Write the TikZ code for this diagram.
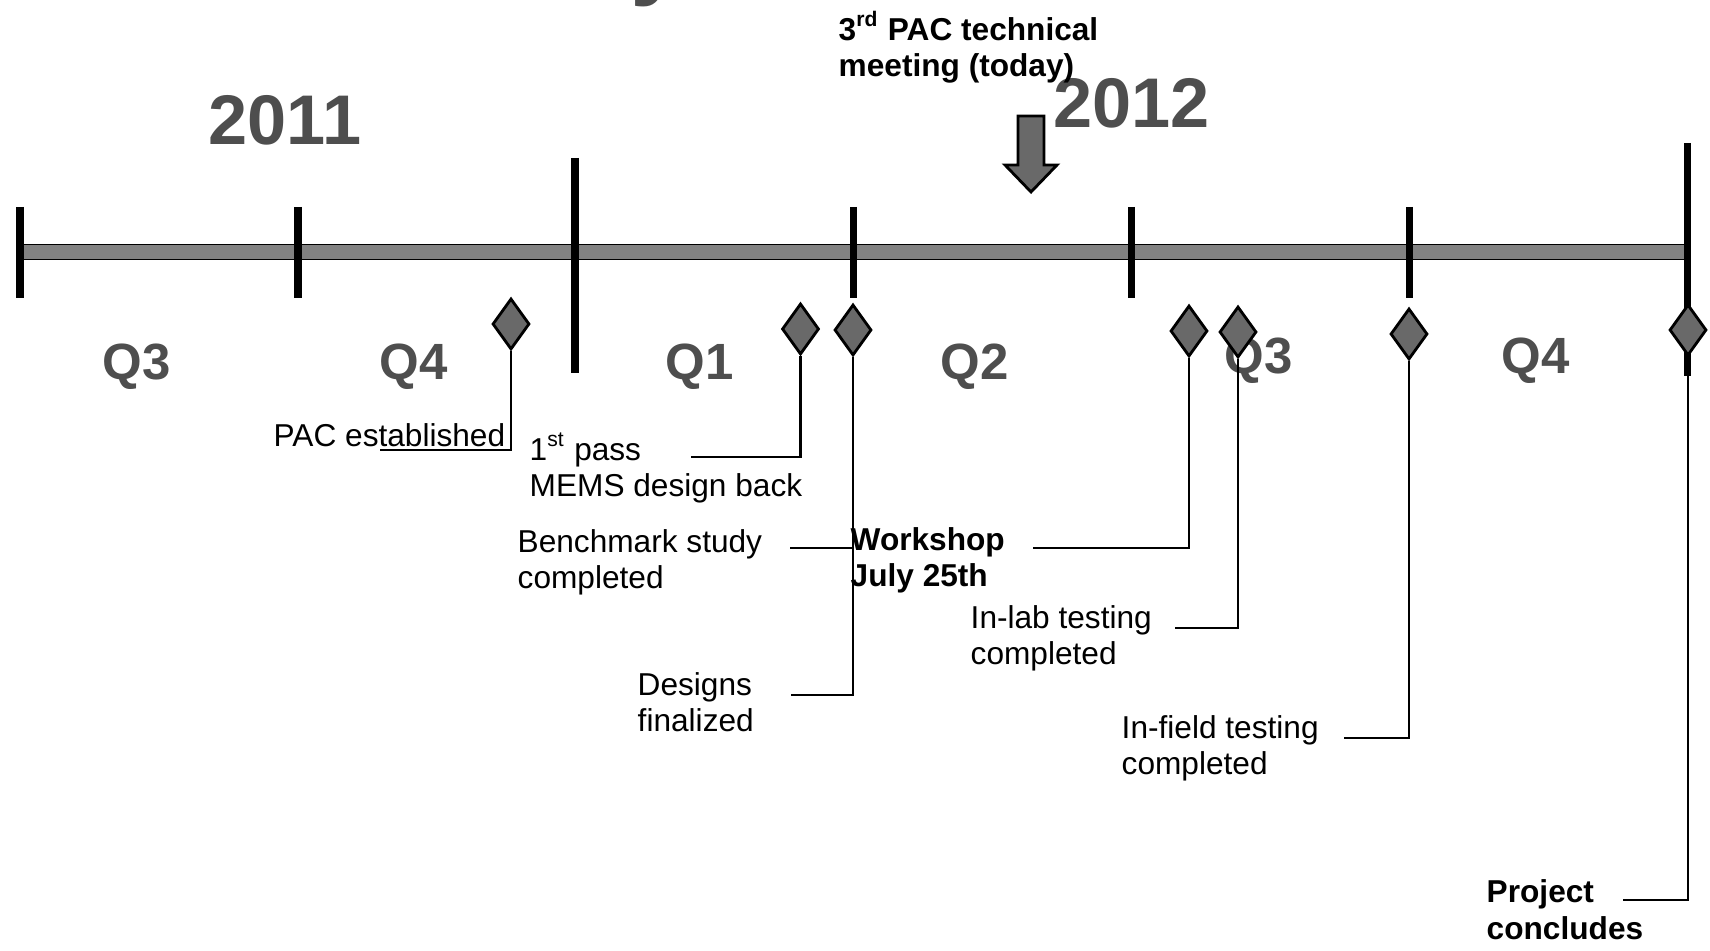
\documentclass[tikz,border=0pt]{standalone}
\usepackage{fontspec}
\setmainfont{Liberation Sans}
\usetikzlibrary{positioning, shapes.geometric}
\tikzstyle{milestone}=[diamond, draw=black, line width=0.8pt, fill=mark_gray, inner sep=0pt, minimum width=0.37cm, minimum height=0.51cm]
\tikzstyle{event}=[anchor=base west, inner sep=0pt, align=left, font=\fontsize{9}{10.5}\selectfont]
\tikzstyle{keyevent}=[event, font=\fontsize{9}{10.5}\selectfont\bfseries]
\tikzstyle{quarter}=[anchor=base west, inner sep=0pt, text=year_gray, font=\fontsize{14.5}{17}\selectfont\bfseries]
\tikzstyle{year}=[anchor=base west, inner sep=0pt, text=year_gray, font=\fontsize{20}{24}\selectfont\bfseries]
\tikzstyle{qtick}=[line width=2pt]
\tikzstyle{leader}=[line width=0.6pt]
\definecolor{bar_gray}{RGB}{130, 130, 130}
\definecolor{mark_gray}{RGB}{105, 105, 105}
\definecolor{year_gray}{RGB}{78, 78, 78}

\begin{document}
\begin{tikzpicture}
    \useasboundingbox (0, 0) rectangle (17.10, -9.51);
    \begin{scope}
        \clip (0, 0) rectangle (17.10, -9.51);
        \node[anchor=south, inner sep=0pt, text=year_gray, font=\fontsize{28}{32}\selectfont\bfseries] (title_tail) at (6.58, -0.08) {y};
    \end{scope}

    \draw[fill=bar_gray, line width=0.5pt] (0.20, -2.445) rectangle (16.87, -2.595);
    \foreach \x in {0.20, 2.98, 8.53, 11.31, 14.09}
        \draw[qtick] (\x, -2.07) -- (\x, -2.98);
    \draw[qtick] (5.75, -1.58) -- (5.75, -3.73);
    \draw[qtick] (16.87, -1.43) -- (16.87, -3.76);

    \node[year] (y2011) at (2.08, -1.45) {2011};
    \node[year] (y2012) at (10.53, -1.28) {2012};
    \node[quarter] (q3_a) at (1.02, -3.80) {Q3};
    \node[quarter] (q4_a) at (3.79, -3.80) {Q4};
    \node[quarter] (q1_b) at (6.65, -3.80) {Q1};
    \node[quarter] (q2_b) at (9.40, -3.80) {Q2};
    \node[quarter] (q3_b) at (12.24, -3.74) {Q3};
    \node[quarter] (q4_b) at (15.01, -3.74) {Q4};

    \node[keyevent] (today) at (8.38, -0.77) {3\textsuperscript{rd} PAC technical\\meeting (today)};
    \draw[fill=mark_gray, line width=0.8pt] (10.18, -1.16) -- (10.44, -1.16) -- (10.44, -1.65) -- (10.57, -1.65)
        -- (10.31, -1.92) -- (10.05, -1.65) -- (10.18, -1.65) -- cycle;

    \node[milestone] (d1) at (5.11, -3.24) {};
    \node[milestone] (d2) at (8.005, -3.29) {};
    \node[milestone] (d3) at (8.53, -3.30) {};
    \node[milestone] (d4) at (11.89, -3.31) {};
    \node[milestone] (d5) at (12.38, -3.32) {};
    \node[milestone] (d6) at (14.09, -3.34) {};
    \node[milestone] (d7) at (16.88, -3.30) {};

    \node[event] (pac) at (2.73, -4.47) {PAC established};
    \node[event] (pass) at (5.29, -4.97) {1\textsuperscript{st} pass\\MEMS design back};
    \node[event] (bench) at (5.17, -5.89) {Benchmark study\\completed};
    \node[event] (designs) at (6.37, -7.32) {Designs\\finalized};
    \node[keyevent] (workshop) at (8.50, -5.87) {Workshop\\July 25th};
    \node[event] (inlab) at (9.70, -6.65) {In-lab testing\\completed};
    \node[event] (infield) at (11.21, -7.75) {In-field testing\\completed};
    \node[keyevent] (concludes) at (14.86, -9.39) {Project\\concludes};

    \coordinate (pac_end) at (3.80, -4.50);
    \coordinate (pass_end) at (6.91, -4.57);
    \coordinate (bench_end) at (7.90, -5.48);
    \coordinate (designs_end) at (7.91, -6.95);
    \coordinate (workshop_end) at (10.33, -5.48);
    \coordinate (inlab_end) at (11.75, -6.28);
    \coordinate (infield_end) at (13.44, -7.38);
    \coordinate (concludes_end) at (16.23, -9.00);

    \draw[leader] (d1.south) |- (pac_end);
    \draw[leader] (d2.south) |- (pass_end);
    \draw[leader] (d3.south) |- (designs_end);
    \draw[leader] (bench_end) -- (bench_end -| d3.south);
    \draw[leader] (d4.south) |- (workshop_end);
    \draw[leader] (d5.south) |- (inlab_end);
    \draw[leader] (d6.south) |- (infield_end);
    \draw[leader] (d7.south) |- (concludes_end);
\end{tikzpicture}
\end{document}
